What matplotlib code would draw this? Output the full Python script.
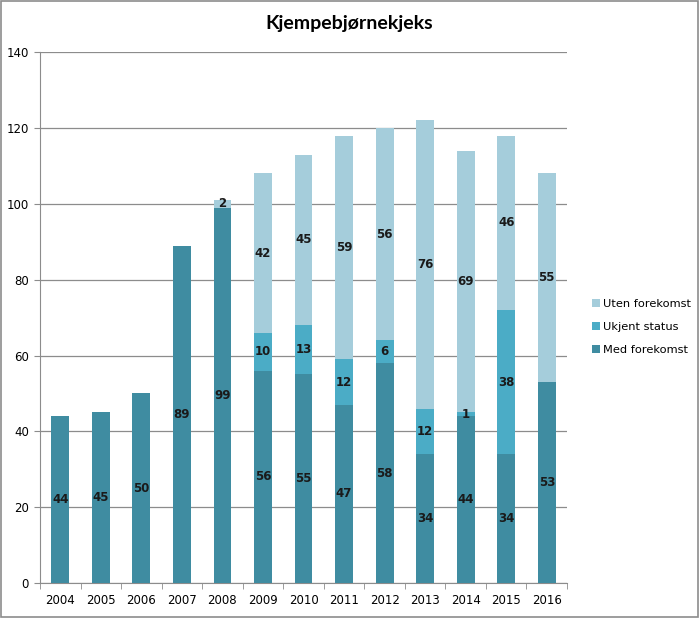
import numpy as np
import matplotlib.pyplot as plt
from matplotlib.patches import Rectangle

years = ['2004', '2005', '2006', '2007', '2008', '2009', '2010',
         '2011', '2012', '2013', '2014', '2015', '2016']
med = [44, 45, 50, 89, 99, 56, 55, 47, 58, 34, 44, 34, 53]
ukjent = [0, 0, 0, 0, 0, 10, 13, 12, 6, 12, 1, 38, 0]
uten = [0, 0, 0, 0, 2, 42, 45, 59, 56, 76, 69, 46, 55]

c_med = '#3f8ca1'
c_ukj = '#4bacc6'
c_uten = '#a5cddb'

fig = plt.figure(figsize=(6.99, 6.18), dpi=100)
ax = fig.add_axes([0.0572, 0.0566, 0.754, 0.859])

x = np.arange(len(years))
w = 0.44
med = np.array(med)
ukjent = np.array(ukjent)
uten = np.array(uten)

b1 = ax.bar(x, med, w, color=c_med, label='Med forekomst', zorder=3)
b2 = ax.bar(x, ukjent, w, bottom=med, color=c_ukj, label='Ukjent status', zorder=3)
b3 = ax.bar(x, uten, w, bottom=med + ukjent, color=c_uten, label='Uten forekomst', zorder=3)

# data labels centred in each segment
for bars, vals, bottoms in [(b1, med, np.zeros(len(med))),
                            (b2, ukjent, med),
                            (b3, uten, med + ukjent)]:
    for xi, v, b in zip(x, vals, bottoms):
        if v > 0:
            ax.text(xi, b + v / 2, str(v), ha='center', va='center',
                    fontsize=8.5, fontweight='bold', color='#1a1a1a', zorder=4)

ax.set_xlim(-0.5, len(years) - 0.5)
ax.set_ylim(0, 140)
ax.set_yticks(range(0, 141, 20))
ax.yaxis.grid(True, color='#8c8c8c', linewidth=0.9, zorder=0)
ax.set_axisbelow(True)

ax.set_xticks(x)
ax.set_xticklabels(years)
ax.set_xticks(np.arange(-0.5, len(years)), minor=True)
ax.tick_params(axis='x', which='major', length=0, pad=8, labelsize=8.5)
ax.tick_params(axis='x', which='minor', length=4, color='#8c8c8c')
ax.tick_params(axis='y', length=4, color='#8c8c8c', labelsize=8.5, pad=4)

for s in ['top', 'right']:
    ax.spines[s].set_visible(False)
for s in ['left', 'bottom']:
    ax.spines[s].set_color('#8c8c8c')

fig.text(0.499, 0.962, 'Kjempebjørnekjeks', ha='center', va='center',
         fontsize=14, fontweight='bold', family='Lato')

handles = [b3, b2, b1]
leg = fig.legend(handles, ['Uten forekomst', 'Ukjent status', 'Med forekomst'],
                 loc='center left', bbox_to_anchor=(0.832, 0.471), frameon=False,
                 fontsize=8.2, handlelength=0.7, handleheight=0.7,
                 handletextpad=0.3, labelspacing=1.15)

fig.patches.append(Rectangle((0.001, 0.001), 0.998, 0.997, transform=fig.transFigure,
                             fill=False, edgecolor='#8c8c8c', linewidth=1.2))

fig.savefig('out.png', dpi=100)
